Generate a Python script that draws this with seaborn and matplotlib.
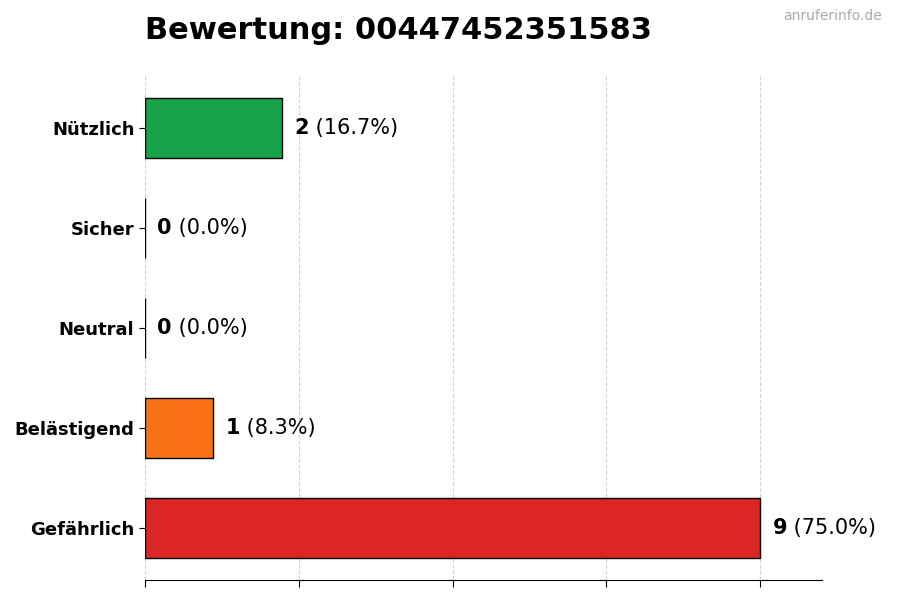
import matplotlib
matplotlib.use("Agg")
import matplotlib.pyplot as plt
import seaborn as sns
import numpy as np
import pandas as pd

categories = ["Nützlich", "Sicher", "Neutral", "Belästigend", "Gefährlich"]
counts = [2, 0, 0, 1, 9]
percent_labels = ["16.7%", "0.0%", "0.0%", "8.3%", "75.0%"]
colors = ["#16a34a", "#9ca3af", "#6b7280", "#f97316", "#dc2626"]
title_text = "Bewertung: 00447452351583"
watermark = "anruferinfo.de"

sns.set_style("white")
plt.rcParams['font.family'] = ['DejaVu Sans']
plt.rcParams['text.color'] = 'black'
plt.rcParams['axes.labelcolor'] = 'black'
plt.rcParams['xtick.color'] = 'black'
plt.rcParams['ytick.color'] = 'black'

df = pd.DataFrame({"Kategorie": categories, "Anzahl": counts})

fig, ax = plt.subplots(figsize=(9, 6), dpi=100)
fig.subplots_adjust(left=0.161, right=0.913, top=0.875, bottom=0.0333)

sns.barplot(data=df, y="Kategorie", x="Anzahl", hue="Kategorie",
            palette=dict(zip(categories, colors)), order=categories,
            orient="h", width=0.6, edgecolor="black", linewidth=1,
            saturation=1, legend=False, ax=ax)

maxv = max(counts)
ax.set_xlim(0, maxv * 1.1)
ax.set_ylim(len(categories) - 0.48, -0.53)
ax.set_xticks(np.linspace(0, maxv, 5))
ax.set_xticklabels([])
ax.xaxis.grid(True, linestyle="--", color="#d4d4d4", linewidth=0.8)
ax.set_axisbelow(True)
ax.set_xlabel("")
ax.set_ylabel("")
for s in ["top", "right", "left"]:
    ax.spines[s].set_visible(False)
ax.spines["bottom"].set_color("black")
ax.tick_params(axis="x", bottom=True, length=5, color="black")
ax.tick_params(axis="y", left=True, length=4, color="black")
for lbl in ax.get_yticklabels():
    lbl.set_fontweight("bold")
    lbl.set_fontsize(13)
    lbl.set_color("black")

for i, (c, p) in enumerate(zip(counts, percent_labels)):
    t1 = ax.annotate(str(c), xy=(c, i), xytext=(9, 0), textcoords="offset points",
                     ha="left", va="center", fontsize=15, fontweight="bold",
                     color="black")
    ax.annotate(f" ({p})", xy=(1, 0), xycoords=t1, ha="left", va="bottom",
                fontsize=15, color="black")

ax.set_title(title_text, loc="left", fontsize=22, fontweight="bold", pad=26,
             color="black")
fig.text(0.98, 0.985, watermark, ha="right", va="top", fontsize=10, color="#aaaaaa")

fig.savefig("out.png", dpi=100)
